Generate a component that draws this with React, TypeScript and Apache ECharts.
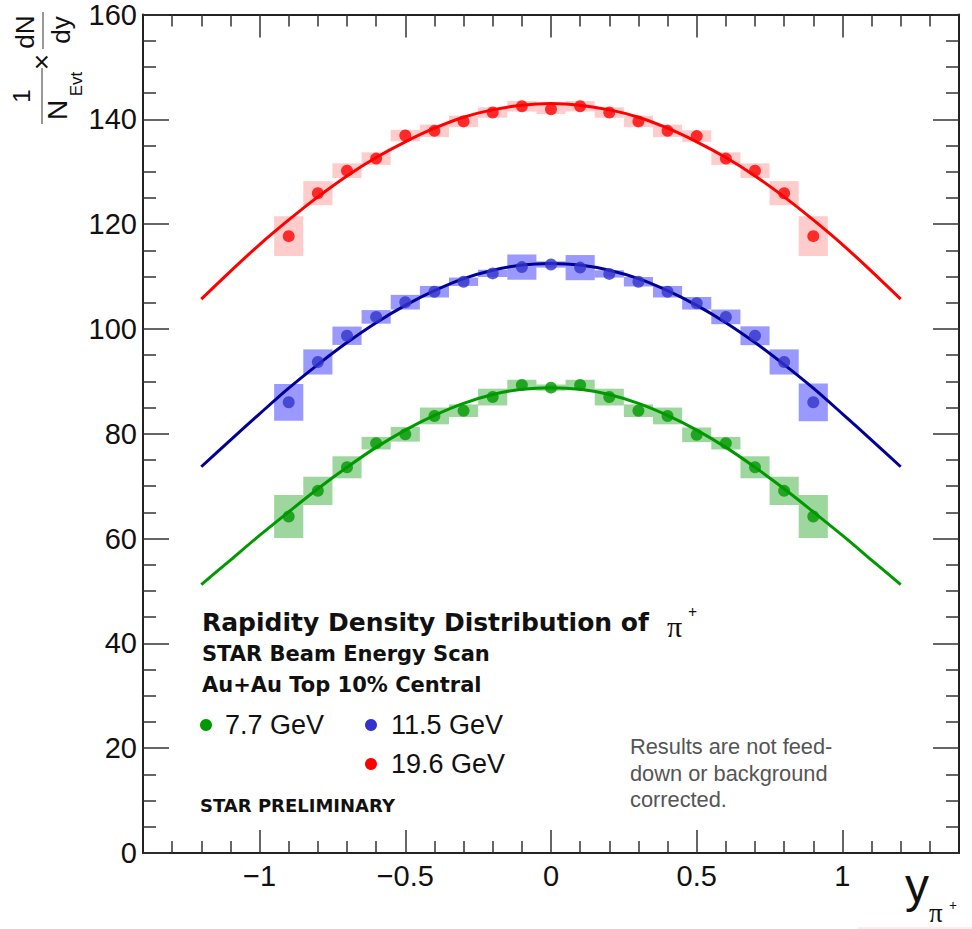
import React, { useEffect, useRef } from "react";
import * as echarts from "echarts";

// Rapidity bins (points) and curve sampling positions
const xPoints = [-0.9, -0.8, -0.7, -0.6, -0.5, -0.4, -0.3, -0.2, -0.1, 0, 0.1, 0.2, 0.3, 0.4, 0.5, 0.6, 0.7, 0.8, 0.9];
const xFit = [-1.2, -1.1, -1.0, -0.9, -0.8, -0.7, -0.6, -0.5, -0.4, -0.3, -0.2, -0.1, 0, 0.1, 0.2, 0.3, 0.4, 0.5, 0.6, 0.7, 0.8, 0.9, 1.0, 1.1, 1.2];

// dN/dy values per energy
const y77 = [64.2, 69.1, 73.6, 78.2, 79.9, 83.4, 84.4, 87.0, 89.3, 88.8, 89.3, 87.0, 84.4, 83.4, 79.8, 78.2, 73.6, 69.1, 64.2];
const y115 = [86.0, 93.7, 98.7, 102.3, 105.1, 107.1, 109.0, 110.6, 111.8, 112.3, 111.7, 110.5, 109.0, 107.1, 104.9, 102.3, 98.7, 93.7, 86.0];
const y196 = [117.7, 125.9, 130.2, 132.5, 136.9, 137.8, 139.6, 141.3, 142.5, 141.9, 142.5, 141.3, 139.6, 137.8, 136.8, 132.5, 130.2, 125.9, 117.7];

// systematic uncertainties (half height of the shaded boxes)
const sys77 = [4.1, 2.7, 2.1, 1.2, 1.4, 1.6, 1.2, 1.6, 1.0, 0.6, 1.0, 1.6, 1.2, 1.6, 1.4, 1.2, 2.1, 2.7, 4.1];
const sys115 = [3.5, 2.4, 1.75, 1.3, 1.4, 1.1, 0.8, 0.7, 2.4, 0.6, 2.4, 0.7, 0.9, 1.1, 1.2, 1.4, 1.8, 2.4, 3.6];
const sys196 = [3.8, 2.3, 1.4, 1.2, 1.1, 1.2, 1.1, 1.0, 1.0, 0.9, 1.0, 1.0, 1.1, 1.2, 1.1, 1.2, 1.4, 2.3, 3.8];

// fitted curves
const fit77 = [51.2, 55.9, 60.6, 65.1, 69.5, 73.6, 77.4, 80.7, 83.5, 85.8, 87.5, 88.5, 88.8, 88.5, 87.5, 85.8, 83.5, 80.7, 77.4, 73.6, 69.5, 65.1, 60.6, 55.9, 51.2];
const fit115 = [73.7, 78.8, 83.8, 88.7, 93.2, 97.4, 101.2, 104.5, 107.3, 109.6, 111.2, 112.2, 112.5, 112.2, 111.2, 109.6, 107.3, 104.5, 101.2, 97.4, 93.2, 88.7, 83.8, 78.8, 73.7];
const fit196 = [105.7, 111.0, 116.1, 120.8, 125.2, 129.2, 132.7, 135.7, 138.3, 140.4, 141.8, 142.7, 143.0, 142.7, 141.8, 140.4, 138.3, 135.7, 132.7, 129.2, 125.2, 120.8, 116.1, 111.0, 105.7];

const energies = ["7.7 GeV", "11.5 GeV", "19.6 GeV"];

// axis ticks
const xMajorTicks = [-1, -0.5, 0, 0.5, 1];
const xMinorTicks = [-1.3, -1.2, -1.1, -0.9, -0.8, -0.7, -0.6, -0.4, -0.3, -0.2, -0.1, 0.1, 0.2, 0.3, 0.4, 0.6, 0.7, 0.8, 0.9, 1.1, 1.2, 1.3];

const BOX_HALF_WIDTH = 0.05;
const SANS = "Liberation Sans, Arial, Helvetica, sans-serif";
const SANS_BOLD = "DejaVu Sans, sans-serif";
const SERIF = "Liberation Serif, Times New Roman, serif";

type Style = { point: string; line: string; box: string };
const styles: Style[] = [
  { point: "#009900", line: "#009900", box: "rgba(0,150,0,0.38)" },
  { point: "#3333cc", line: "#000099", box: "rgba(0,0,255,0.4)" },
  { point: "#ff0000", line: "#ff0000", box: "rgba(255,0,0,0.2)" },
];

function buildSeries(name: string, ys: number[], sys: number[], fit: number[], st: Style) {
  return [
    {
      name,
      type: "custom",
      z: 1,
      data: xPoints.map((x, i) => [x, ys[i], sys[i]]),
      encode: { x: 0, y: 1 },
      renderItem: (_p: any, api: any) => {
        const x = api.value(0);
        const y = api.value(1);
        const e = api.value(2);
        const a = api.coord([x - BOX_HALF_WIDTH, y + e]);
        const b = api.coord([x + BOX_HALF_WIDTH, y - e]);
        return {
          type: "rect",
          shape: { x: a[0], y: a[1], width: b[0] - a[0], height: b[1] - a[1] },
          style: { fill: st.box },
        };
      },
    },
    {
      name,
      type: "line",
      z: 3,
      smooth: 0.3,
      showSymbol: false,
      data: xFit.map((x, i) => [x, fit[i]]),
      lineStyle: { color: st.line, width: 3 },
      itemStyle: { color: st.line },
    },
    {
      name,
      type: "scatter",
      z: 4,
      symbol: "circle",
      symbolSize: 12,
      data: xPoints.map((x, i) => [x, ys[i]]),
      itemStyle: { color: st.point },
    },
  ];
}

const axisColor = "#222";
const tickStyle = { color: "#333", width: 1.5 };

function xAxisDef(position: "bottom" | "top", major: boolean) {
  return {
    type: "value",
    min: -1.4,
    max: 1.4,
    position,
    axisLine: { show: major, onZero: false, lineStyle: { color: axisColor, width: 2 } },
    axisTick: { show: true, inside: true, length: major ? 23 : 12, customValues: major ? xMajorTicks : xMinorTicks, lineStyle: tickStyle },
    axisLabel: {
      show: major && position === "bottom",
      customValues: xMajorTicks,
      margin: 8,
      fontFamily: SANS,
      fontSize: 29,
      color: "#111",
      formatter: (v: number) => String(v).replace("-", "\u2212"),
    },
    splitLine: { show: false },
  };
}

function yAxisDef(position: "left" | "right") {
  return {
    type: "value",
    min: 0,
    max: 160,
    interval: 20,
    position,
    axisLine: { show: true, onZero: false, lineStyle: { color: axisColor, width: 2 } },
    axisTick: { show: true, inside: true, length: 26, lineStyle: tickStyle },
    minorTick: { show: true, splitNumber: 4, length: 13, lineStyle: tickStyle },
    axisLabel: { show: position === "left", margin: 6, fontFamily: SANS, fontSize: 29, color: "#111" },
    splitLine: { show: false },
    minorSplitLine: { show: false },
  };
}

function txt(text: string, x: number, y: number, font: string, size: number, extra: any = {}) {
  return {
    type: "text",
    x,
    y,
    style: { text, fontFamily: font, fontSize: size, fill: "#111", align: "left", verticalAlign: "middle", ...extra },
    z: 10,
  };
}

export default function App() {
  const ref = useRef<HTMLDivElement>(null);

  useEffect(() => {
    if (!ref.current) return;
    const chart = echarts.init(ref.current, undefined, { renderer: "svg" });

    const series = [
      ...buildSeries(energies[0], y77, sys77, fit77, styles[0]),
      ...buildSeries(energies[1], y115, sys115, fit115, styles[1]),
      ...buildSeries(energies[2], y196, sys196, fit196, styles[2]),
    ];

    // rotated y-axis title: 1/N_Evt x dN/dy, built in the rotated frame
    const yTitle = {
      type: "group",
      x: 0,
      y: 125,
      rotation: Math.PI / 2,
      z: 10,
      children: [
        { type: "text", x: 29, y: 21, style: { text: "1", fontFamily: SANS, fontSize: 24, fill: "#111", align: "center", verticalAlign: "middle" } },
        { type: "line", shape: { x1: 1, y1: 42, x2: 57, y2: 42 }, style: { stroke: "#777", lineWidth: 1.5 } },
        { type: "text", x: 15, y: 57, style: { text: "N", fontFamily: SANS, fontSize: 28, fill: "#111", align: "center", verticalAlign: "middle" } },
        { type: "text", x: 41, y: 76, style: { text: "Evt", fontFamily: SANS, fontSize: 17, fill: "#111", align: "center", verticalAlign: "middle" } },
        { type: "text", x: 63, y: 41, style: { text: "\u00d7", fontFamily: SANS, fontSize: 28, fill: "#111", align: "center", verticalAlign: "middle" } },
        { type: "text", x: 93, y: 25, style: { text: "dN", fontFamily: SANS, fontSize: 26, fill: "#111", align: "center", verticalAlign: "middle" } },
        { type: "line", shape: { x1: 76, y1: 43, x2: 113, y2: 43 }, style: { stroke: "#777", lineWidth: 1.5 } },
        { type: "text", x: 95, y: 61, style: { text: "dy", fontFamily: SANS, fontSize: 26, fill: "#111", align: "center", verticalAlign: "middle" } },
      ],
    };

    const graphic = [
      yTitle,
      // x-axis title
      txt("y", 905, 885, SANS, 48),
      txt("\u03c0", 929, 913, SERIF, 27),
      txt("+", 949, 905, SERIF, 14, { fontWeight: "bold" }),
      { type: "line", shape: { x1: 858, y1: 928, x2: 972, y2: 928 }, style: { stroke: "#ffd8d8", lineWidth: 1 }, z: 10 },
      // text block
      txt("Rapidity Density Distribution of", 202, 622, SANS_BOLD, 25, { fontWeight: "bold" }),
      txt("\u03c0", 667, 626, SERIF, 30),
      txt("+", 688, 612, SERIF, 16, { fontWeight: "bold" }),
      txt("STAR Beam Energy Scan", 202, 654, SANS_BOLD, 21, { fontWeight: "bold" }),
      txt("Au+Au Top 10% Central", 202, 685, SANS_BOLD, 21, { fontWeight: "bold" }),
      { type: "circle", shape: { cx: 206, cy: 725, r: 6 }, style: { fill: styles[0].point }, z: 10 },
      txt(energies[0], 225, 725, SANS, 27),
      { type: "circle", shape: { cx: 371, cy: 725, r: 6 }, style: { fill: styles[1].point }, z: 10 },
      txt(energies[1], 391, 725, SANS, 27),
      { type: "circle", shape: { cx: 371, cy: 764, r: 6 }, style: { fill: styles[2].point }, z: 10 },
      txt(energies[2], 391, 764, SANS, 27),
      txt("STAR PRELIMINARY", 200, 805, SANS_BOLD, 18, { fontWeight: "bold" }),
      txt("Results are not feed-\ndown or background\ncorrected.", 630, 773, SANS, 21.8, { fill: "#555", lineHeight: 26.5 }),
    ];

    chart.setOption({
      animation: false,
      backgroundColor: "#ffffff",
      grid: { left: 143, top: 13, right: 13, bottom: 76, containLabel: false },
      xAxis: [xAxisDef("bottom", true), xAxisDef("bottom", false), xAxisDef("top", true), xAxisDef("top", false)],
      yAxis: [yAxisDef("left"), yAxisDef("right")],
      series,
      graphic,
    });

    return () => chart.dispose();
  }, []);

  return <div ref={ref} style={{ position: "fixed", left: 0, top: 0, width: 972, height: 929, background: "#fff" }} />;
}
